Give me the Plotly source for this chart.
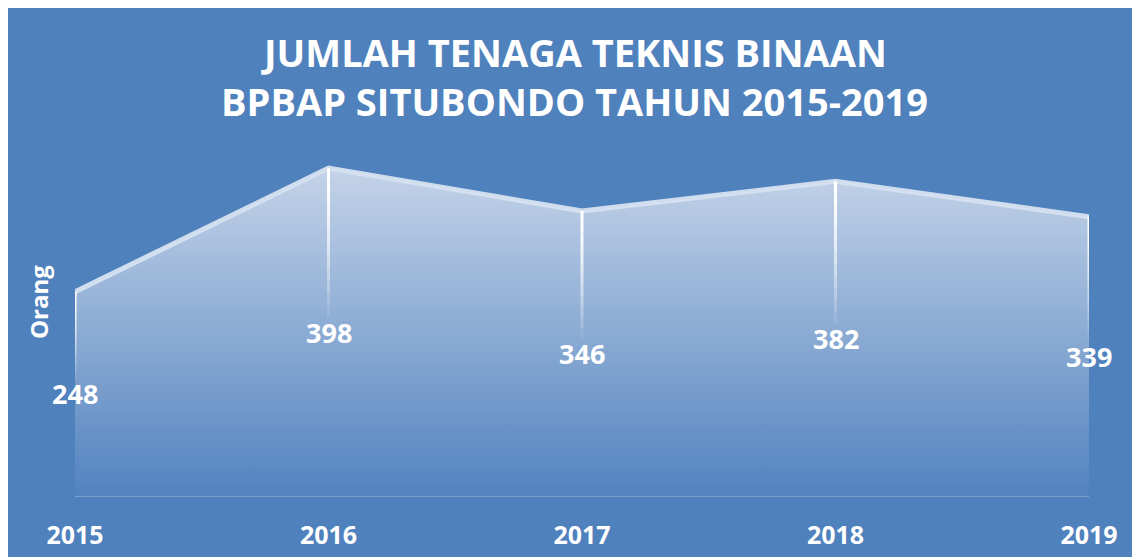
import numpy as np
import plotly.graph_objects as go

years = [2015, 2016, 2017, 2018, 2019]
values = [248, 398, 346, 382, 339]
year_labels = ["2015", "2016", "2017", "2018", "2019"]

title_lines = ["JUMLAH TENAGA TEKNIS BINAAN", "BPBAP SITUBONDO TAHUN 2015-2019"]
y_title = "Orang"

c_bg = "#4F81BD"
c_top = "rgb(196, 211, 232)"
c_bottom = "rgb(82, 131, 191)"
c_edge = "rgba(214, 225, 240, 0.95)"
font_family = "Open Sans"

W, H = 1132, 549
M = dict(l=67, r=51, t=142, b=61)

fig = go.Figure()

# area with vertical gradient
fig.add_trace(
    go.Scatter(
        x=years,
        y=values,
        mode="lines",
        fill="tozeroy",
        fillgradient=dict(
            type="vertical",
            colorscale=[[0, c_bottom], [1, c_top]],
            start=0,
            stop=max(values),
        ),
        line=dict(color=c_edge, width=5),
        hoverinfo="skip",
        showlegend=False,
    )
)

# white drop lines fading downward
n_seg = 12
for x, v in zip(years, values):
    ys = np.linspace(v, v / 2 + 18, n_seg + 1)
    for k in range(n_seg):
        alpha = 1.0 - 0.9 * (k / (n_seg - 1)) ** 1.4
        fig.add_trace(
            go.Scatter(
                x=[x, x],
                y=[ys[k], ys[k + 1]],
                mode="lines",
                line=dict(color=f"rgba(255,255,255,{alpha:.2f})", width=3),
                hoverinfo="skip",
                showlegend=False,
            )
        )

# value labels
for x, v in zip(years, values):
    fig.add_annotation(
        x=x,
        y=v / 2,
        text=str(v),
        showarrow=False,
        font=dict(family=font_family, size=27, color="white", weight="bold"),
    )

# title, two lines
plot_w = W - M["l"] - M["r"]
plot_h = H - M["t"] - M["b"]
for line, y_px in zip(title_lines, [44, 93]):
    fig.add_annotation(
        xref="paper",
        yref="paper",
        x=(W / 2 - M["l"]) / plot_w,
        y=(H - M["b"] - y_px) / plot_h,
        text=line,
        showarrow=False,
        xanchor="center",
        yanchor="middle",
        font=dict(family=font_family, size=38, color="white", weight="bold"),
    )

fig.add_annotation(
    xref="paper",
    yref="paper",
    x=(30 - M["l"]) / plot_w,
    y=(H - M["b"] - 294) / plot_h,
    xanchor="center",
    yanchor="middle",
    text=y_title,
    textangle=-90,
    showarrow=False,
    font=dict(family=font_family, size=24, color="white", weight="bold"),
)

fig.update_layout(
    width=W,
    height=H,
    paper_bgcolor=c_bg,
    plot_bgcolor=c_bg,
    margin=M,
)
fig.update_xaxes(
    range=[years[0], years[-1]],
    tickvals=years,
    ticktext=year_labels,
    showgrid=False,
    zeroline=False,
    showline=False,
    ticks="",
    automargin=False,
    ticklabelstandoff=22,
    tickfont=dict(family=font_family, size=25, color="white", weight="bold"),
)
fig.update_yaxes(
    range=[0, 420],
    showgrid=False,
    zeroline=True,
    zerolinecolor="rgba(255,255,255,0.25)",
    zerolinewidth=2,
    showticklabels=False,
    showline=False,
    automargin=False,
)

fig.write_html("out.html")
